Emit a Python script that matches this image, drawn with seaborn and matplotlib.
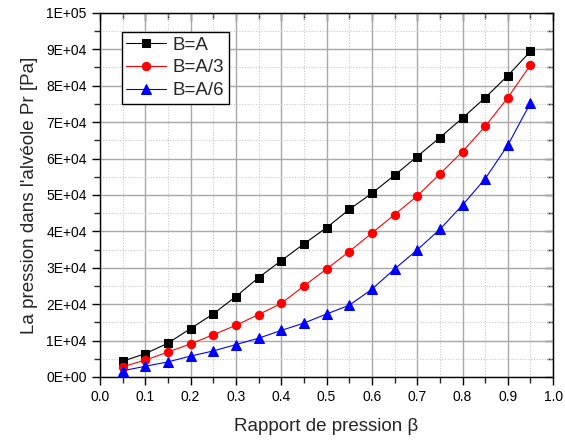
import numpy as np
import pandas as pd
import matplotlib
matplotlib.use("Agg")
import matplotlib.pyplot as plt
from matplotlib.ticker import MultipleLocator, FuncFormatter
import seaborn as sns

beta = [0.05, 0.10, 0.15, 0.20, 0.25, 0.30, 0.35, 0.40, 0.45, 0.50,
        0.55, 0.60, 0.65, 0.70, 0.75, 0.80, 0.85, 0.90, 0.95]
p_A = [4350, 6400, 9300, 13300, 17350, 22100, 27300, 31950, 36550, 41000,
       46000, 50450, 55400, 60550, 65750, 71100, 76700, 82750, 89450]
p_A3 = [2800, 4650, 6850, 9100, 11600, 14200, 17150, 20200, 25000, 29650,
        34450, 39500, 44600, 49700, 55750, 61900, 68800, 76700, 85700]
p_A6 = [1700, 2950, 4150, 5750, 7150, 8900, 10650, 12800, 14800, 17300,
        19700, 24100, 29650, 34900, 40550, 47200, 54450, 63650, 75250]
labels = ["B=A", "B=A/3", "B=A/6"]
colors = ["black", "red", "blue"]
markers = ["s", "o", "^"]
msizes = [5.5, 6.0, 7.0]

sns.set_style("white")
plt.rcParams["font.family"] = ["Liberation Sans", "DejaVu Sans"]

df = pd.DataFrame({
    "beta": beta * 3,
    "p": p_A + p_A3 + p_A6,
    "serie": [labels[0]] * len(beta) + [labels[1]] * len(beta) + [labels[2]] * len(beta),
})

fig = plt.figure(figsize=(5.65, 4.43), dpi=100)
ax = fig.add_axes([0.177, 0.149, 0.802, 0.822])

for lab, c, m, ms in zip(labels, colors, markers, msizes):
    sns.lineplot(data=df[df["serie"] == lab], x="beta", y="p", ax=ax,
                 color=c, marker=m, markersize=ms,
                 markeredgecolor=c, linewidth=0.8, label=lab, zorder=3)

ax.set_xlim(0, 1.0)
ax.set_ylim(0, 100000)
ax.xaxis.set_major_locator(MultipleLocator(0.1))
ax.xaxis.set_minor_locator(MultipleLocator(0.05))
ax.yaxis.set_major_locator(MultipleLocator(10000))
ax.yaxis.set_minor_locator(MultipleLocator(5000))
ax.xaxis.set_major_formatter(FuncFormatter(lambda v, p: f"{v:.1f}"))
ax.yaxis.set_major_formatter(FuncFormatter(lambda v, p: f"{v:.0E}"))

ax.grid(True, which="major", color="#a8a8a8", linewidth=1.0, linestyle="-")
ax.grid(True, which="minor", color="#c8c8c8", linewidth=0.8, linestyle=(0, (1, 1.5)))
ax.set_axisbelow(True)

for s in ax.spines.values():
    s.set_color("black")
    s.set_linewidth(1.0)

ax.tick_params(axis="both", which="major", direction="out", length=6, width=1,
               labelsize=10, colors="black", bottom=True, left=True)
ax.tick_params(axis="both", which="minor", direction="out", length=4, width=1,
               bottom=True, left=True)

# inward ticks on top and right
axt = ax.secondary_xaxis("top")
axt.xaxis.set_major_locator(MultipleLocator(0.1))
axt.xaxis.set_minor_locator(MultipleLocator(0.05))
axt.tick_params(which="major", direction="in", length=6, width=1, labeltop=False)
axt.tick_params(which="minor", direction="in", length=4, width=1)
axr = ax.secondary_yaxis("right")
axr.yaxis.set_major_locator(MultipleLocator(10000))
axr.yaxis.set_minor_locator(MultipleLocator(5000))
axr.tick_params(which="major", direction="in", length=6, width=1, labelright=False)
axr.tick_params(which="minor", direction="in", length=4, width=1)

ax.set_xlabel("Rapport de pression β", fontsize=13.5, labelpad=10)
ax.set_ylabel("La pression dans l'alvéole Pr [Pa]", fontsize=13.5, labelpad=6)

leg = ax.legend(loc="upper left", bbox_to_anchor=(0.048, 0.948), borderaxespad=0,
                fontsize=13.5, frameon=True, fancybox=False, edgecolor="black",
                framealpha=1, handlelength=2.1, borderpad=0.25, labelspacing=0.3,
                handletextpad=0.35)
leg.get_frame().set_linewidth(1.0)

fig.savefig("out.png", dpi=100)
